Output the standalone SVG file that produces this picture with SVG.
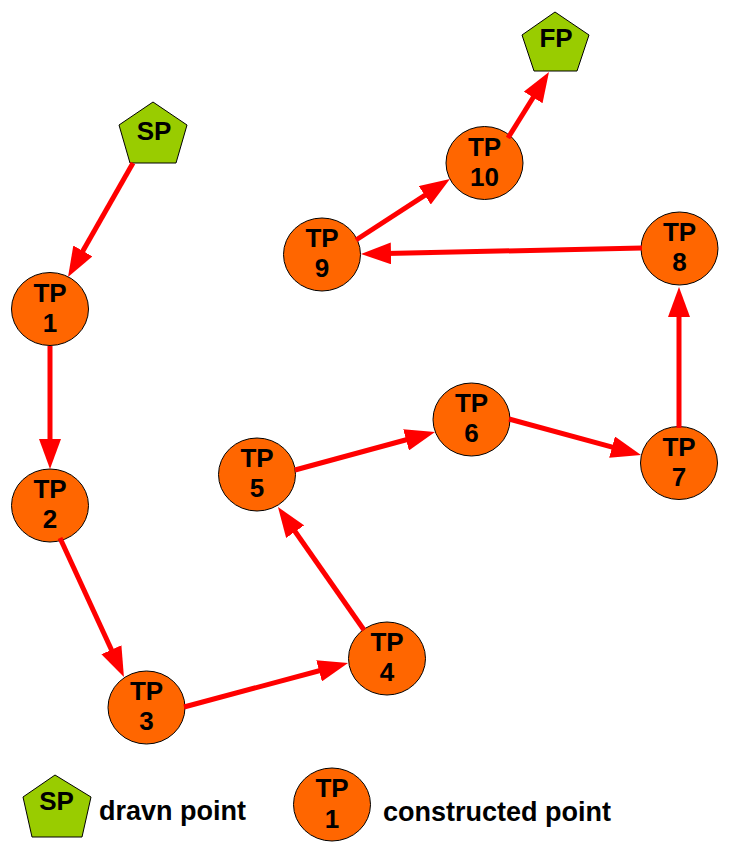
<svg xmlns="http://www.w3.org/2000/svg" width="729" height="851" viewBox="0 0 729 851">
<style>
.tp{fill:#FF6600;stroke:#000;stroke-width:1}
.pt{fill:#99CC00;stroke:#000;stroke-width:1}
.lbl{font-family:"Liberation Sans",Arial,sans-serif;font-weight:bold;font-size:26px;fill:#000;text-anchor:middle}
.leg{font-family:"Liberation Sans",Arial,sans-serif;font-weight:bold;font-size:27px;fill:#000}
.con{stroke:#FF0000;stroke-width:5;fill:none;marker-end:url(#ah)}
</style>
<defs>
<marker id="ah" markerUnits="userSpaceOnUse" markerWidth="30" markerHeight="22" viewBox="0 0 30 22" refX="5" refY="11" orient="auto">
<path d="M0,0 L30,11 L0,22 Z" fill="#FF0000"/>
</marker>
</defs>
<rect width="729" height="851" fill="#fff"/>
<g id="SP"><polygon class="pt" points="153,102 187,125 176,163 130,163 119,125"/><text class="lbl" x="154" y="140">SP</text></g>
<g id="FP"><polygon class="pt" points="555,12 589,35 577,71 534,71 522,35"/><text class="lbl" x="556" y="47">FP</text></g>
<g id="TP1"><ellipse class="tp" cx="50" cy="309" rx="38.5" ry="36.5"/><text class="lbl" x="50" y="302">TP</text><text class="lbl" x="50" y="332">1</text></g>
<g id="TP2"><ellipse class="tp" cx="50" cy="505.5" rx="38.5" ry="36.5"/><text class="lbl" x="50" y="498">TP</text><text class="lbl" x="50" y="528">2</text></g>
<g id="TP3"><ellipse class="tp" cx="146.5" cy="707.5" rx="38.5" ry="36.5"/><text class="lbl" x="146.5" y="700">TP</text><text class="lbl" x="146.5" y="730">3</text></g>
<g id="TP4"><ellipse class="tp" cx="387" cy="658.5" rx="38.5" ry="36.5"/><text class="lbl" x="387" y="651">TP</text><text class="lbl" x="387" y="681">4</text></g>
<g id="TP5"><ellipse class="tp" cx="257" cy="474.5" rx="38.5" ry="36.5"/><text class="lbl" x="257" y="467">TP</text><text class="lbl" x="257" y="497">5</text></g>
<g id="TP6"><ellipse class="tp" cx="471.5" cy="419.5" rx="38.5" ry="36.5"/><text class="lbl" x="471.5" y="412">TP</text><text class="lbl" x="471.5" y="442">6</text></g>
<g id="TP7"><ellipse class="tp" cx="679" cy="463" rx="38.5" ry="36.5"/><text class="lbl" x="679" y="455.5">TP</text><text class="lbl" x="679" y="485.5">7</text></g>
<g id="TP8"><ellipse class="tp" cx="679.5" cy="248.5" rx="38.5" ry="36.5"/><text class="lbl" x="679.5" y="241">TP</text><text class="lbl" x="679.5" y="271">8</text></g>
<g id="TP9"><ellipse class="tp" cx="322" cy="254.5" rx="38.5" ry="36.5"/><text class="lbl" x="322" y="247">TP</text><text class="lbl" x="322" y="277">9</text></g>
<g id="TP10"><ellipse class="tp" cx="484.5" cy="163" rx="38.5" ry="36.5"/><text class="lbl" x="484.5" y="155.5">TP</text><text class="lbl" x="484.5" y="185.5">10</text></g>
<g id="connectors">
<line class="con" x1="133" y1="163" x2="80.4" y2="255.3"/>
<line class="con" x1="50" y1="346" x2="50" y2="444"/>
<line class="con" x1="60" y1="538" x2="113.5" y2="654.3"/>
<line class="con" x1="184" y1="707" x2="323.9" y2="669.5"/>
<line class="con" x1="364" y1="630" x2="292.3" y2="527.5"/>
<line class="con" x1="295" y1="470" x2="410.9" y2="438.5"/>
<line class="con" x1="509" y1="419" x2="616.9" y2="448.4"/>
<line class="con" x1="679" y1="428" x2="679" y2="312"/>
<line class="con" x1="642" y1="248" x2="386" y2="253.5"/>
<line class="con" x1="356" y1="240" x2="429" y2="192.6"/>
<line class="con" x1="508" y1="138" x2="535.8" y2="93.2"/>
</g>
<g id="legend-drawn"><polygon class="pt" points="55,775 91,797 82,837 32,837 23,797"/><text class="lbl" x="56.5" y="810">SP</text><text class="leg" x="99" y="820">dravn point</text></g>
<g id="legend-constructed"><ellipse class="tp" cx="332" cy="804.5" rx="38.5" ry="36.5"/><text class="lbl" x="332" y="797">TP</text><text class="lbl" x="332" y="828">1</text><text class="leg" x="383" y="821">constructed point</text></g>
</svg>
